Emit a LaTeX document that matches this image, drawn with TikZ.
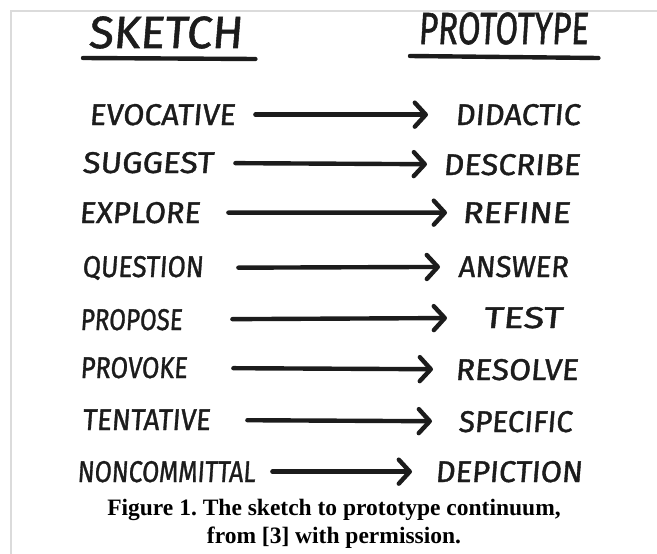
\documentclass[tikz,border=0pt]{standalone}
\usepackage{fontspec}
\setmainfont{Liberation Serif}
\newfontfamily\handfont[FakeSlant=0.08,FakeBold=1.2]{Fira Sans}
\usepackage{graphicx}
\usepackage{tikz}
\usetikzlibrary{arrows.meta}
\definecolor{MarkerInk}{HTML}{1C1C1C}
\definecolor{FrameGray}{gray}{0.86}
\newcommand{\HandWord}[2]{\resizebox{#1}{\height}{#2}}
\frenchspacing

\begin{document}
\begin{tikzpicture}[
  x=1pt,y=-1pt,
  word/.style={inner sep=0pt,anchor=base west,text=MarkerInk,
               font=\handfont\fontsize{30}{30}\selectfont},
  header/.style={word,font=\handfont\fontsize{45}{45}\selectfont},
  caption/.style={inner sep=0pt,anchor=base,font=\bfseries\fontsize{23.5}{27}\selectfont},
  arrow/.style={draw=MarkerInk,line width=4.4pt,line cap=round,
                -{Straight Barb[length=11pt,width=24pt,round]}},
  underline/.style={draw=MarkerInk,line width=4.4pt,line cap=round},
]
  \useasboundingbox (0,0) rectangle (657,554);
  \fill[white] (0,0) rectangle (657,554);
  % frame of the figure box
  \draw[FrameGray,line width=2pt] (657,11) -- (11,11) -- (11,554);

  \node[header] (sketch) at (88,48) {\HandWord{154pt}{SKETCH}};
  \node[header] (prototype) at (418,44) {\HandWord{170pt}{PROTOTYPE}};
  \draw[underline] ([xshift=-5pt,yshift=-10pt]sketch.base west) -- ([xshift=13pt,yshift=-11pt]sketch.base east);
  \draw[underline] ([xshift=-8pt,yshift=-12pt]prototype.base west) -- ([xshift=10pt,yshift=-14pt]prototype.base east);

  \node[word] (evocative) at (89,125) {\HandWord{146pt}{EVOCATIVE}};
  \node[word] (didactic) at (455,125) {\HandWord{125pt}{DIDACTIC}};
  \draw[arrow,shorten <=20pt,shorten >=27pt] (evocative) -- (didactic);

  \node[word] (suggest) at (82,173) {\HandWord{131pt}{SUGGEST}};
  \node[word] (describe) at (443,175) {\HandWord{137pt}{DESCRIBE}};
  \draw[arrow,shorten <=22pt,shorten >=16pt] (suggest) -- (describe);

  \node[word] (explore) at (79,223) {\HandWord{121pt}{EXPLORE}};
  \node[word] (refine) at (462,223) {\HandWord{108pt}{REFINE}};
  \draw[arrow,shorten <=28pt,shorten >=15pt] (explore) -- (refine);

  \node[word] (question) at (82,277) {\HandWord{121pt}{QUESTION}};
  \node[word] (answer) at (458,277) {\HandWord{110pt}{ANSWER}};
  \draw[arrow,shorten <=35pt,shorten >=18pt] (question) -- (answer);

  \node[word] (propose) at (80,330) {\HandWord{102pt}{PROPOSE}};
  \node[word] (test) at (483,328) {\HandWord{79pt}{TEST}};
  \draw[arrow,shorten <=50pt,shorten >=36pt] (propose) -- (test);

  \node[word] (provoke) at (80,378) {\HandWord{107pt}{PROVOKE}};
  \node[word] (resolve) at (455,380) {\HandWord{123pt}{RESOLVE}};
  \draw[arrow,shorten <=46pt,shorten >=22pt] (provoke) -- (resolve);

  \node[word] (tentative) at (82,430) {\HandWord{128pt}{TENTATIVE}};
  \node[word] (specific) at (458,432) {\HandWord{114pt}{SPECIFIC}};
  \draw[arrow,shorten <=37pt,shorten >=26pt] (tentative) -- (specific);

  \node[word] (noncommittal) at (77,482) {\HandWord{178pt}{NONCOMMITTAL}};
  \node[word] (depiction) at (435,482) {\HandWord{147pt}{DEPICTION}};
  \draw[arrow,shorten <=17pt,shorten >=23pt] (noncommittal) -- (depiction);

  \node[caption] (caption1) at (334,515) {Figure 1. The sketch to prototype continuum,};
  \node[caption] (caption2) at (334,543) {from [3] with permission.};
\end{tikzpicture}
\end{document}
